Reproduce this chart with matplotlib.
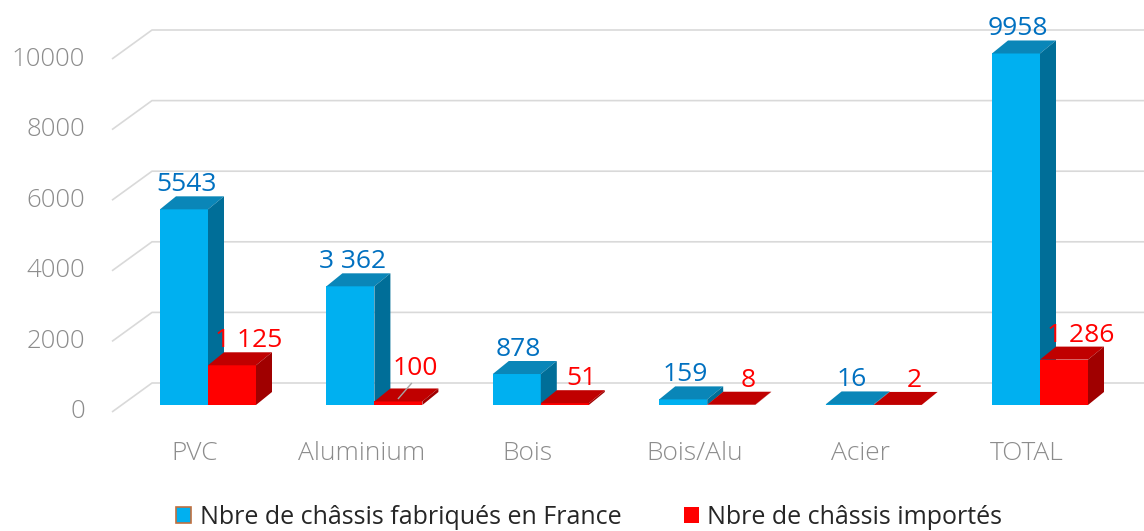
import matplotlib
matplotlib.use("Agg")
import matplotlib.pyplot as plt
from matplotlib.patches import Polygon, Patch

# data
categories = ["PVC", "Aluminium", "Bois", "Bois/Alu", "Acier", "TOTAL"]
fabriques = [5543, 3362, 878, 159, 16, 9958]
importes = [1125, 100, 51, 8, 2, 1286]
fab_labels = ["5543", "3 362", "878", "159", "16", "9958"]
imp_labels = ["1 125", "100", "51", "8", "2", "1 286"]
yticks = [0, 2000, 4000, 6000, 8000, 10000]
legend_labels = ["Nbre de châssis fabriqués en France", "Nbre de châssis importés"]

plt.rcParams['font.family'] = ['Open Sans', 'DejaVu Sans']

# pixel scales of the fake 3D view
XS = 166.4          # px per category
YS = 0.0353         # px per unit of value
W = 48 / XS         # bar width
DX = 16 / XS        # depth shift of the bars
DY = 13 / YS

def px_x(px):
    return (px - 208) / XS

def px_y(px):
    return px / YS

fig = plt.figure(figsize=(11.44, 5.31), dpi=100)
ax = fig.add_axes([0, 0, 1, 1])
ax.set_xlim(px_x(0), px_x(1144))
ax.set_ylim(-(531 - 405) / YS, 405 / YS)
ax.axis('off')

grey = '#8c8c8c'

# gridlines on the side and back walls
for v in yticks:
    yf = v - px_y(7)
    yb = v + px_y(22)
    ax.plot([px_x(112), px_x(152), px_x(1144)], [yf, yb, yb],
            color='#d9d9d9', lw=1.2, zorder=1, solid_capstyle='butt')
    ax.text(px_x(85), yf, str(v), ha='right', va='center',
            fontsize=18.5, color=grey, fontweight='light')


def bar3d(x0, h, front, top, side):
    x1 = x0 + W
    ax.add_patch(Polygon([(x0, 0), (x1, 0), (x1, h), (x0, h)],
                         closed=True, fc=front, ec='none', zorder=3))
    ax.add_patch(Polygon([(x0, h), (x1, h), (x1 + DX, h + DY), (x0 + DX, h + DY)],
                         closed=True, fc=top, ec='none', zorder=3))
    ax.add_patch(Polygon([(x1, 0), (x1 + DX, DY), (x1 + DX, h + DY), (x1, h)],
                         closed=True, fc=side, ec='none', zorder=3))


for i, cat in enumerate(categories):
    bar3d(i - W, fabriques[i], '#00b0f0', '#0a86b8', '#006e98')
    bar3d(i, importes[i], '#ff0000', '#c00000', '#a00000')

    ax.text(i - W / 2 + px_x(210), fabriques[i] + DY + px_y(5), fab_labels[i],
            ha='center', va='baseline', fontsize=19, color='#0070c0')
    extra = 0
    if i == 1:
        extra = px_y(8)
        ax.plot([i + px_x(398 - 374 + 208), i + px_x(411 - 374 + 208)],
                [importes[i] + px_y(3), importes[i] + px_y(18)],
                color='#a6a6a6', lw=1, zorder=4)
    ax.text(i + W / 2 + px_x(225), importes[i] + DY + px_y(5) + extra, imp_labels[i],
            ha='center', va='baseline', fontsize=19, color='#ff0000')

    ax.text(i + px_x(195), px_y(-48), cat, ha='center', va='center',
            fontsize=19, color=grey, fontweight='light')

handles = [Patch(fc='#00b0f0', ec='#c07040', lw=1.2), Patch(fc='#ff0000', ec='none')]
fig.legend(handles, legend_labels, loc='center', bbox_to_anchor=(0.515, 0.026),
           ncol=2, frameon=False, fontsize=18, handlelength=0.6, handleheight=0.6,
           handletextpad=0.35, columnspacing=2.5, labelcolor='#262626')

fig.savefig('out.png', dpi=100)
